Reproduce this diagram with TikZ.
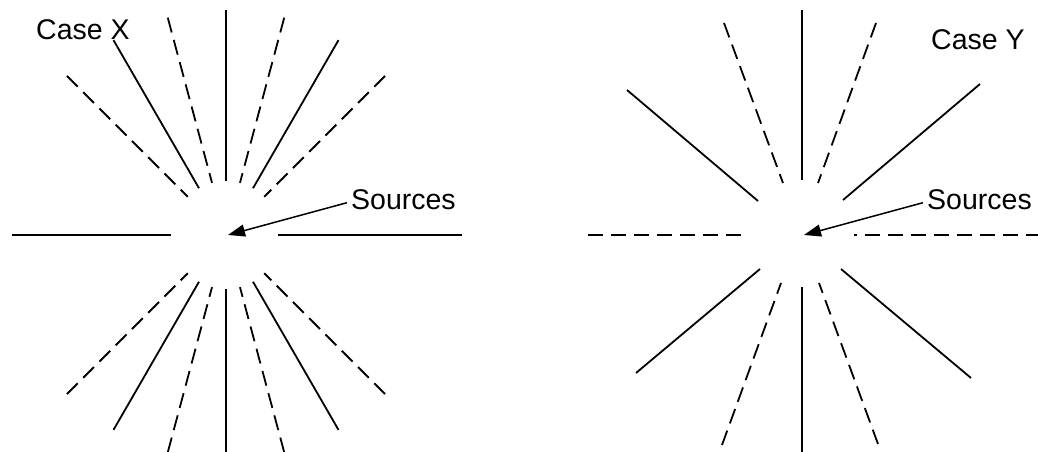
\documentclass[tikz,border=0pt]{standalone}
\usepackage{fontspec}
\setmainfont{Liberation Sans}
\usetikzlibrary{arrows.meta,calc}
\tikzset{
  ray/.style={line width=1.8pt, line cap=butt},
  dray/.style={ray, dash pattern=on 15.3pt off 7.7pt},
  lbl/.style={inner sep=0pt, anchor=base west, font=\fontsize{28.5}{34}\selectfont},
  ptr/.style={line width=1.5pt, -{Triangle[length=17pt,width=12pt]}, shorten <=0pt}
}
\begin{document}
\begin{tikzpicture}[x=1pt,y=-1pt]
\useasboundingbox (0,0) rectangle (1038,452);
\clip (0,0) rectangle (1038,452);
\fill[white] (0,0) rectangle (1038,452);
% ---------- Case X ----------
\coordinate (c1) at (226,235);
\foreach \a/\s in {45/dray,60/ray,75/dray,90/ray,105/dray,120/ray,135/dray,
                   225/dray,240/ray,255/dray,270/ray,285/dray,300/ray,315/dray}{
  \draw[\s] ($(c1)+({225*cos(\a)},{-225*sin(\a)})$) -- ($(c1)+({54*cos(\a)},{-54*sin(\a)})$);
}
\draw[ray] (12,235) -- (171,235);
\draw[ray] (278,235) -- (462,235);
\node[lbl] (cx) at (36,40) {Case X};
\node[lbl] (s1) at (351,209) {Sources};
\coordinate (t1) at (228,235);
\draw[ptr] ([xshift=-4pt,yshift=-3.5pt]s1.west) -- (t1);
% ---------- Case Y ----------
\coordinate (c2) at (802,235);
\draw[ray]  (627,90)  -- (758,201);
\draw[dray] (724,23)  -- (783,183);
\draw[ray]  (802,10)  -- (802,180);
\draw[dray] (876,23)  -- (818,183);
\draw[ray]  (980,84)  -- (843,200);
\draw[ray]  (636,373) -- (760,269);
\draw[dray] (722,445) -- (781,283);
\draw[ray]  (802,287) -- (802,460);
\draw[dray] (878,444) -- (819,283);
\draw[ray]  (971,378) -- (841,269);
\draw[dray] (588,235) -- (743,235);
\draw[ray, dash pattern=on 15.3pt off 7.7pt, dash phase=12.3pt] (854,235) -- (1040,235);
\node[lbl] (cy) at (931,50) {Case Y};
\node[lbl] (s2) at (927,209) {Sources};
\coordinate (t2) at (804,235);
\draw[ptr] ([xshift=-4pt,yshift=-3.5pt]s2.west) -- (t2);
\end{tikzpicture}
\end{document}
